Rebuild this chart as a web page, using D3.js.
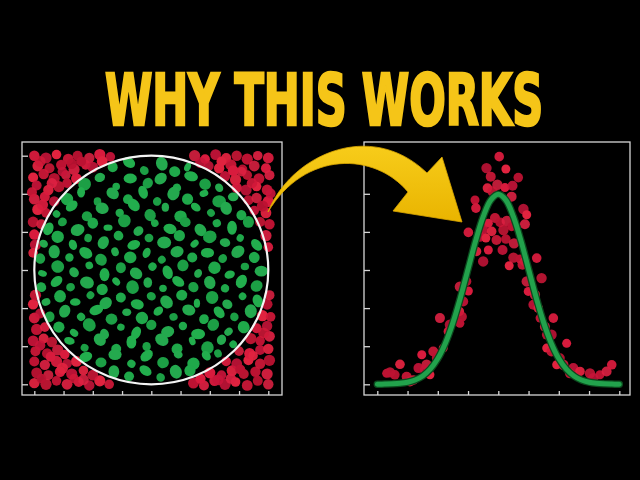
<!DOCTYPE html>
<html><head><meta charset="utf-8">
<script src="https://cdn.jsdelivr.net/npm/d3@7"></script>
<style>html,body{margin:0;padding:0;background:#000;}svg{display:block;}</style>
</head><body>
<script>
// ---------- DATA ----------
const titleText = "WHY THIS WORKS";

// Left panel (Monte Carlo): points outside the unit circle
const redOutside = [
 [-1.0,1.0],[-0.9,0.98],[-0.81,1.01],[-0.71,0.97],[-0.63,1.0],[-0.53,0.98],[-0.44,1.01],[-0.35,0.99],
 [-0.97,0.91],[-0.87,0.89],[-0.77,0.92],[-0.66,0.88],[-0.56,0.92],[-0.5,0.9],
 [-1.01,0.81],[-0.92,0.84],[-0.83,0.8],[-0.73,0.83],[-0.64,0.8],
 [-0.98,0.74],[-0.88,0.7],[-0.79,0.73],[-0.72,0.76],
 [-1.0,0.62],[-0.91,0.64],[-0.83,0.6],[-0.97,0.53],[-0.9,0.5],
 [-1.01,0.42],[-0.94,0.4],[-1.0,0.31],[-0.99,0.22],[-1.01,0.15],
 [-0.95,0.95],[-0.6,0.95],[-0.85,0.76],[-0.93,0.57],[-0.76,0.86],[-0.42,0.95],[-1.02,0.68],[-0.68,0.93],
 [0.37,1.0],[0.46,0.97],[0.55,1.01],[0.64,0.98],[0.73,1.0],[0.82,0.97],[0.91,1.0],[1.0,0.98],
 [0.49,0.91],[0.58,0.89],[0.68,0.92],[0.78,0.88],[0.88,0.91],[0.98,0.89],
 [0.63,0.82],[0.72,0.79],[0.82,0.83],[0.92,0.8],[1.01,0.83],
 [0.73,0.72],[0.81,0.7],[0.9,0.73],[0.99,0.7],
 [0.83,0.61],[0.9,0.63],[1.0,0.6],[0.88,0.52],[0.98,0.5],
 [0.93,0.42],[1.01,0.4],[0.98,0.3],[1.0,0.2],
 [0.42,0.94],[0.6,0.95],[0.86,0.76],[0.95,0.56],[0.77,0.86],[0.7,0.87],[1.02,0.67],
 [-1.0,-0.99],[-0.9,-1.0],[-0.81,-0.97],[-0.72,-1.0],[-0.62,-0.98],[-0.53,-1.01],[-0.44,-0.97],[-0.36,-1.0],
 [-0.98,-0.9],[-0.88,-0.92],[-0.78,-0.89],[-0.68,-0.91],[-0.58,-0.88],[-0.5,-0.92],
 [-1.0,-0.8],[-0.91,-0.83],[-0.81,-0.8],[-0.72,-0.82],[-0.64,-0.8],
 [-0.99,-0.71],[-0.89,-0.73],[-0.8,-0.7],[-0.74,-0.74],
 [-1.01,-0.62],[-0.92,-0.6],[-0.85,-0.63],[-0.98,-0.52],[-0.91,-0.5],
 [-1.0,-0.42],[-0.95,-0.38],[-1.01,-0.3],[-0.99,-0.22],
 [-0.94,-0.95],[-0.58,-0.96],[-0.86,-0.76],[-0.95,-0.66],[-0.76,-0.86],[-0.66,-0.95],
 [0.36,-0.99],[0.45,-1.01],[0.54,-0.97],[0.63,-1.0],[0.72,-0.98],[0.82,-1.01],[0.91,-0.97],[1.0,-1.0],
 [0.5,-0.9],[0.6,-0.92],[0.69,-0.88],[0.79,-0.91],[0.89,-0.89],[0.99,-0.91],
 [0.64,-0.8],[0.73,-0.82],[0.83,-0.79],[0.93,-0.82],[1.01,-0.79],
 [0.75,-0.71],[0.84,-0.73],[0.93,-0.7],[1.0,-0.69],
 [0.85,-0.6],[0.93,-0.62],[1.01,-0.58],[0.9,-0.51],[0.99,-0.49],
 [0.95,-0.4],[1.02,-0.41],[0.99,-0.3],[1.01,-0.22],
 [0.42,-0.95],[0.57,-0.96],[0.87,-0.75],[0.96,-0.55],[0.76,-0.87],[0.68,-0.95]
];

// Left panel: points inside the unit circle
const greenInside = [
 [-0.33,0.9],[-0.19,0.94],[-0.06,0.87],[0.09,0.93],[0.2,0.86],[0.31,0.9],
 [-0.57,0.75],[-0.44,0.81],[-0.3,0.73],[-0.18,0.8],[-0.03,0.76],[0.08,0.8],[0.22,0.72],[0.34,0.82],[0.46,0.75],[0.58,0.72],
 [-0.72,0.62],[-0.6,0.68],[-0.46,0.6],[-0.33,0.67],[-0.2,0.62],[-0.07,0.68],[0.05,0.6],[0.19,0.67],[0.31,0.62],[0.45,0.67],[0.58,0.6],[0.7,0.64],
 [-0.81,0.49],[-0.68,0.56],[-0.55,0.47],[-0.42,0.54],[-0.27,0.5],[-0.15,0.57],[-0.01,0.48],[0.12,0.55],[0.25,0.47],[0.38,0.55],[0.51,0.5],[0.64,0.54],[0.77,0.48],
 [-0.88,0.36],[-0.76,0.42],[-0.63,0.35],[-0.5,0.41],[-0.37,0.37],[-0.23,0.43],[-0.11,0.34],[0.03,0.41],[0.16,0.36],[0.29,0.42],[0.42,0.35],[0.56,0.41],[0.69,0.37],[0.83,0.42],
 [-0.92,0.23],[-0.8,0.29],[-0.67,0.22],[-0.54,0.28],[-0.41,0.24],[-0.28,0.3],[-0.15,0.22],[-0.02,0.28],[0.11,0.24],[0.24,0.3],[0.37,0.23],[0.5,0.29],[0.63,0.24],[0.76,0.28],[0.9,0.22],
 [-0.95,0.1],[-0.83,0.16],[-0.7,0.11],[-0.56,0.15],[-0.43,0.09],[-0.31,0.16],[-0.18,0.11],[-0.04,0.15],[0.09,0.09],[0.22,0.16],[0.35,0.11],[0.48,0.15],[0.61,0.1],[0.74,0.16],[0.88,0.11],
 [-0.93,-0.03],[-0.8,0.03],[-0.66,-0.02],[-0.53,0.04],[-0.4,-0.04],[-0.26,0.02],[-0.13,-0.03],[0.01,0.03],[0.14,-0.02],[0.27,0.04],[0.4,-0.03],[0.54,0.02],[0.67,-0.04],[0.8,0.03],[0.94,-0.01],
 [-0.94,-0.15],[-0.81,-0.1],[-0.69,-0.15],[-0.55,-0.11],[-0.42,-0.17],[-0.3,-0.1],[-0.16,-0.15],[-0.03,-0.11],[0.1,-0.16],[0.23,-0.1],[0.36,-0.15],[0.5,-0.11],[0.63,-0.16],[0.77,-0.1],[0.9,-0.14],
 [-0.9,-0.28],[-0.78,-0.23],[-0.65,-0.28],[-0.52,-0.22],[-0.39,-0.29],[-0.26,-0.24],[-0.12,-0.3],[0.0,-0.23],[0.13,-0.28],[0.26,-0.22],[0.39,-0.29],[0.52,-0.24],[0.65,-0.3],[0.78,-0.23],[0.91,-0.27],
 [-0.87,-0.41],[-0.74,-0.36],[-0.6,-0.41],[-0.47,-0.35],[-0.34,-0.43],[-0.21,-0.37],[-0.08,-0.42],[0.06,-0.36],[0.19,-0.41],[0.32,-0.35],[0.45,-0.43],[0.58,-0.37],[0.71,-0.41],[0.85,-0.36],
 [-0.79,-0.5],[-0.66,-0.55],[-0.53,-0.48],[-0.4,-0.56],[-0.26,-0.5],[-0.13,-0.55],[0.0,-0.48],[0.14,-0.54],[0.27,-0.49],[0.4,-0.56],[0.53,-0.48],[0.66,-0.54],[0.79,-0.5],
 [-0.7,-0.62],[-0.57,-0.68],[-0.44,-0.61],[-0.3,-0.69],[-0.17,-0.63],[-0.04,-0.67],[0.09,-0.61],[0.22,-0.69],[0.35,-0.62],[0.48,-0.68],[0.6,-0.61],[0.7,-0.65],
 [-0.56,-0.76],[-0.43,-0.81],[-0.31,-0.74],[-0.17,-0.82],[-0.04,-0.75],[0.1,-0.81],[0.23,-0.74],[0.36,-0.82],[0.47,-0.75],[0.57,-0.73],
 [-0.32,-0.89],[-0.19,-0.93],[-0.05,-0.88],[0.08,-0.94],[0.21,-0.89],[0.33,-0.88]
];
const leftXTicks = [-1,-0.75,-0.5,-0.25,0,0.25,0.5,0.75,1];
const leftYTicks = [-1,-2/3,-1/3,0,1/3,2/3,1];

// Right panel: sample points around the bell curve
const sampleX = [0.03,-0.39,0.25,-0.25,0.66,-0.03,0.22,0.47,-0.36,-0.19,-0.77,0.44,-0.74,0.83,0.94,-0.11,0.06,0.28,-0.33,-0.5,-0.22,0.17,0.44,0.88,-0.99,-0.61,-0.41,-0.06,0.25,0.52,-0.33,0.14,-0.72,0.5,0.72,0.88,1.27,-0.5,0.36,0.8,
 -1.05,-1.27,-0.99,-1.16,-1.29,-1.21,-1.27,-1.93,-1.65,-1.6,-1.82,-2.15,-2.04,-2.37,-2.53,-2.64,-3.25,-3.58,-3.69,-2.92,-2.81,-2.42,-2.26,-3.03,-3.42,
 0.94,0.99,1.16,1.32,1.43,1.38,1.54,1.82,1.76,1.6,1.76,2.04,2.15,2.26,2.48,2.7,3.03,3.36,3.58,3.75,3.14,1.93,2.37,1.6,1.21];
const sampleY = [0.478,0.454,0.452,0.436,0.434,0.419,0.413,0.417,0.412,0.405,0.387,0.394,0.37,0.368,0.356,0.349,0.34,0.343,0.338,0.324,0.321,0.324,0.331,0.336,0.319,0.31,0.307,0.303,0.305,0.296,0.282,0.282,0.279,0.266,0.263,0.258,0.265,0.258,0.249,0.251,
 0.216,0.205,0.196,0.174,0.153,0.142,0.128,0.139,0.111,0.125,0.076,0.069,0.055,0.041,0.062,0.034,0.042,0.025,0.023,0.006,0.009,0.03,0.02,0.016,0.02,
 0.216,0.195,0.167,0.16,0.223,0.139,0.121,0.139,0.104,0.076,0.069,0.055,0.041,0.086,0.034,0.027,0.023,0.02,0.027,0.041,0.013,0.041,0.023,0.104,0.188];

// Bell curve (standard normal density) read at 0.25 steps
const curveX = [-4,-3.75,-3.5,-3.25,-3,-2.75,-2.5,-2.25,-2,-1.75,-1.5,-1.25,-1,-0.75,-0.5,-0.25,0,0.25,0.5,0.75,1,1.25,1.5,1.75,2,2.25,2.5,2.75,3,3.25,3.5,3.75,4];
const curveY = [0.0001,0.0004,0.0009,0.002,0.0044,0.0091,0.0175,0.0317,0.054,0.0863,0.1295,0.1826,0.242,0.3011,0.3521,0.3867,0.3989,0.3867,0.3521,0.3011,0.242,0.1826,0.1295,0.0863,0.054,0.0317,0.0175,0.0091,0.0044,0.002,0.0009,0.0004,0.0001];
const rightXTicks = [-4,-3,-2,-1,0,1,2,3,4];
const rightYTicks = [0,0.08,0.16,0.24,0.32,0.4,0.48];

// ---------- CHART ----------
const W = 640, H = 480;
const svg = d3.select("body").append("svg").attr("width", W).attr("height", H);
svg.append("rect").attr("width", W).attr("height", H).attr("fill", "#000");

const frameL = {x0: 22, x1: 282, y0: 142, y1: 395};
const frameR = {x0: 364, x1: 630, y0: 142, y1: 395};

const xL = d3.scaleLinear().domain([-1, 1]).range([34.3, 268.3]);
const yL = d3.scaleLinear().domain([-1, 1]).range([384.3, 155.7]);
const xR = d3.scaleLinear().domain([-4, 4]).range([377.3, 619.3]);
const yR = d3.scaleLinear().domain([0, 0.48]).range([384.3, 155.7]);

const frameColor = "#d6d6d6";
function drawFrame(f, xs, ys, xt, yt) {
  const g = svg.append("g");
  g.append("rect").attr("x", f.x0).attr("y", f.y0).attr("width", f.x1 - f.x0).attr("height", f.y1 - f.y0)
    .attr("fill", "none").attr("stroke", frameColor).attr("stroke-width", 1.3);
  const ax = g.append("g").attr("transform", `translate(0,${f.y1})`)
    .call(d3.axisBottom(xs).tickValues(xt).tickSize(-4).tickSizeOuter(0).tickFormat(""));
  const ay = g.append("g").attr("transform", `translate(${f.x0},0)`)
    .call(d3.axisLeft(ys).tickValues(yt).tickSize(-6).tickSizeOuter(0).tickFormat(""));
  [ax, ay].forEach(a => {
    a.select(".domain").remove();
    a.selectAll("line").attr("stroke", frameColor).attr("stroke-width", 1.3);
  });
}
drawFrame(frameL, xL, yL, leftXTicks, leftYTicks);
drawFrame(frameR, xR, yR, rightXTicks, rightYTicks);

// Left panel marks
const redShades = ["#d81b3d", "#c9143a", "#e0233f", "#d01838", "#bc1232", "#dd2142"];
svg.append("clipPath").attr("id", "clipL").append("rect")
  .attr("x", frameL.x0 + 1).attr("y", frameL.y0 + 1).attr("width", frameL.x1 - frameL.x0 - 2).attr("height", frameL.y1 - frameL.y0 - 2);
const gL = svg.append("g").attr("clip-path", "url(#clipL)");
gL.selectAll("circle.red").data(redOutside).join("circle")
  .attr("class", "red")
  .attr("cx", d => xL(d[0])).attr("cy", d => yL(d[1]))
  .attr("r", (d, i) => [5.2, 5.6, 4.8, 5.4, 5.0][i % 5])
  .attr("fill", (d, i) => redShades[i % redShades.length])
  .attr("opacity", (d, i) => [0.95, 0.88, 1, 0.92][i % 4]);

const gR = [5.0, 6.6, 4.2, 7.0, 5.6, 4.5, 6.2, 5.3, 3.8, 6.6];
const gAsp = [1, 0.75, 1.1, 0.82, 0.95, 0.7, 1.05, 0.85];
const gAng = [0, 35, -40, 70, 15, -65, 50, -20, 90];
const greenShades = ["#1fa84a", "#22ae4d", "#1c9f45", "#24a94e"];
gL.selectAll("ellipse.green").data(greenInside).join("ellipse")
  .attr("class", "green")
  .attr("cx", 0).attr("cy", 0)
  .attr("rx", (d, i) => gR[i % gR.length])
  .attr("ry", (d, i) => gR[i % gR.length] * gAsp[i % gAsp.length])
  .attr("transform", (d, i) => `translate(${xL(d[0])},${yL(d[1])}) rotate(${gAng[i % gAng.length]})`)
  .attr("fill", (d, i) => greenShades[i % greenShades.length]);

// unit circle
svg.append("ellipse")
  .attr("cx", xL(0)).attr("cy", yL(0))
  .attr("rx", xL(1) - xL(0)).attr("ry", yL(0) - yL(1))
  .attr("fill", "none").attr("stroke", "#f4f4f4").attr("stroke-width", 2.2);

// Right panel marks
const samples = sampleX.map((x, i) => [x, sampleY[i]]);
svg.append("g").selectAll("circle").data(samples).join("circle")
  .attr("cx", d => xR(d[0])).attr("cy", d => yR(d[1]))
  .attr("r", (d, i) => [4.8, 5.2, 4.5, 5.0][i % 4])
  .attr("fill", (d, i) => redShades[i % redShades.length])
  .attr("opacity", (d, i) => [0.95, 0.85, 1, 0.9][i % 4]);

const curve = curveX.map((x, i) => [x, curveY[i]]);
const line = d3.line().x(d => xR(d[0])).y(d => yR(d[1])).curve(d3.curveCatmullRom);
svg.append("path").datum(curve).attr("d", line)
  .attr("fill", "none").attr("stroke", "#0b4a1e").attr("stroke-width", 7.5).attr("stroke-linecap", "round");
svg.append("path").datum(curve).attr("d", line)
  .attr("fill", "none").attr("stroke", "#22a24c").attr("stroke-width", 5).attr("stroke-linecap", "round");

// Yellow curved arrow (annotation)
const arrow = d3.path();
arrow.moveTo(268, 212);
arrow.bezierCurveTo(290, 156, 370, 118, 427, 173);
arrow.lineTo(442, 157);
arrow.lineTo(462, 222);
arrow.lineTo(393, 211);
arrow.lineTo(408, 192);
arrow.bezierCurveTo(375, 152, 305, 150, 268, 212);
arrow.closePath();
const defs = svg.append("defs");
const grad = defs.append("linearGradient").attr("id", "arrowGrad").attr("x1", "0").attr("y1", "0").attr("x2", "0").attr("y2", "1");
grad.append("stop").attr("offset", "0%").attr("stop-color", "#f7cc1a");
grad.append("stop").attr("offset", "100%").attr("stop-color", "#e9b400");
svg.append("path").attr("d", arrow.toString())
  .attr("fill", "url(#arrowGrad)").attr("stroke", "#d9a600").attr("stroke-width", 0.8).attr("stroke-linejoin", "round");

// Title: fit to the reference width by horizontal scaling
const titleG = svg.append("g");
const title = titleG.append("text")
  .attr("x", 0).attr("y", 0)
  .attr("text-anchor", "middle")
  .attr("font-family", "'Liberation Sans Narrow','DejaVu Sans Condensed','Liberation Sans',sans-serif")
  .attr("font-weight", "bold")
  .attr("font-size", 72)
  .attr("fill", "#f5c518")
  .attr("stroke", "#f5c518").attr("stroke-width", 2.6).attr("stroke-linejoin", "miter")
  .text(titleText);
const tw = title.node().getComputedTextLength() + 2.6;
const sx = Math.min(1, 440 / tw);
titleG.attr("transform", `translate(324,125) scale(${sx},1)`);
</script>
</body></html>
